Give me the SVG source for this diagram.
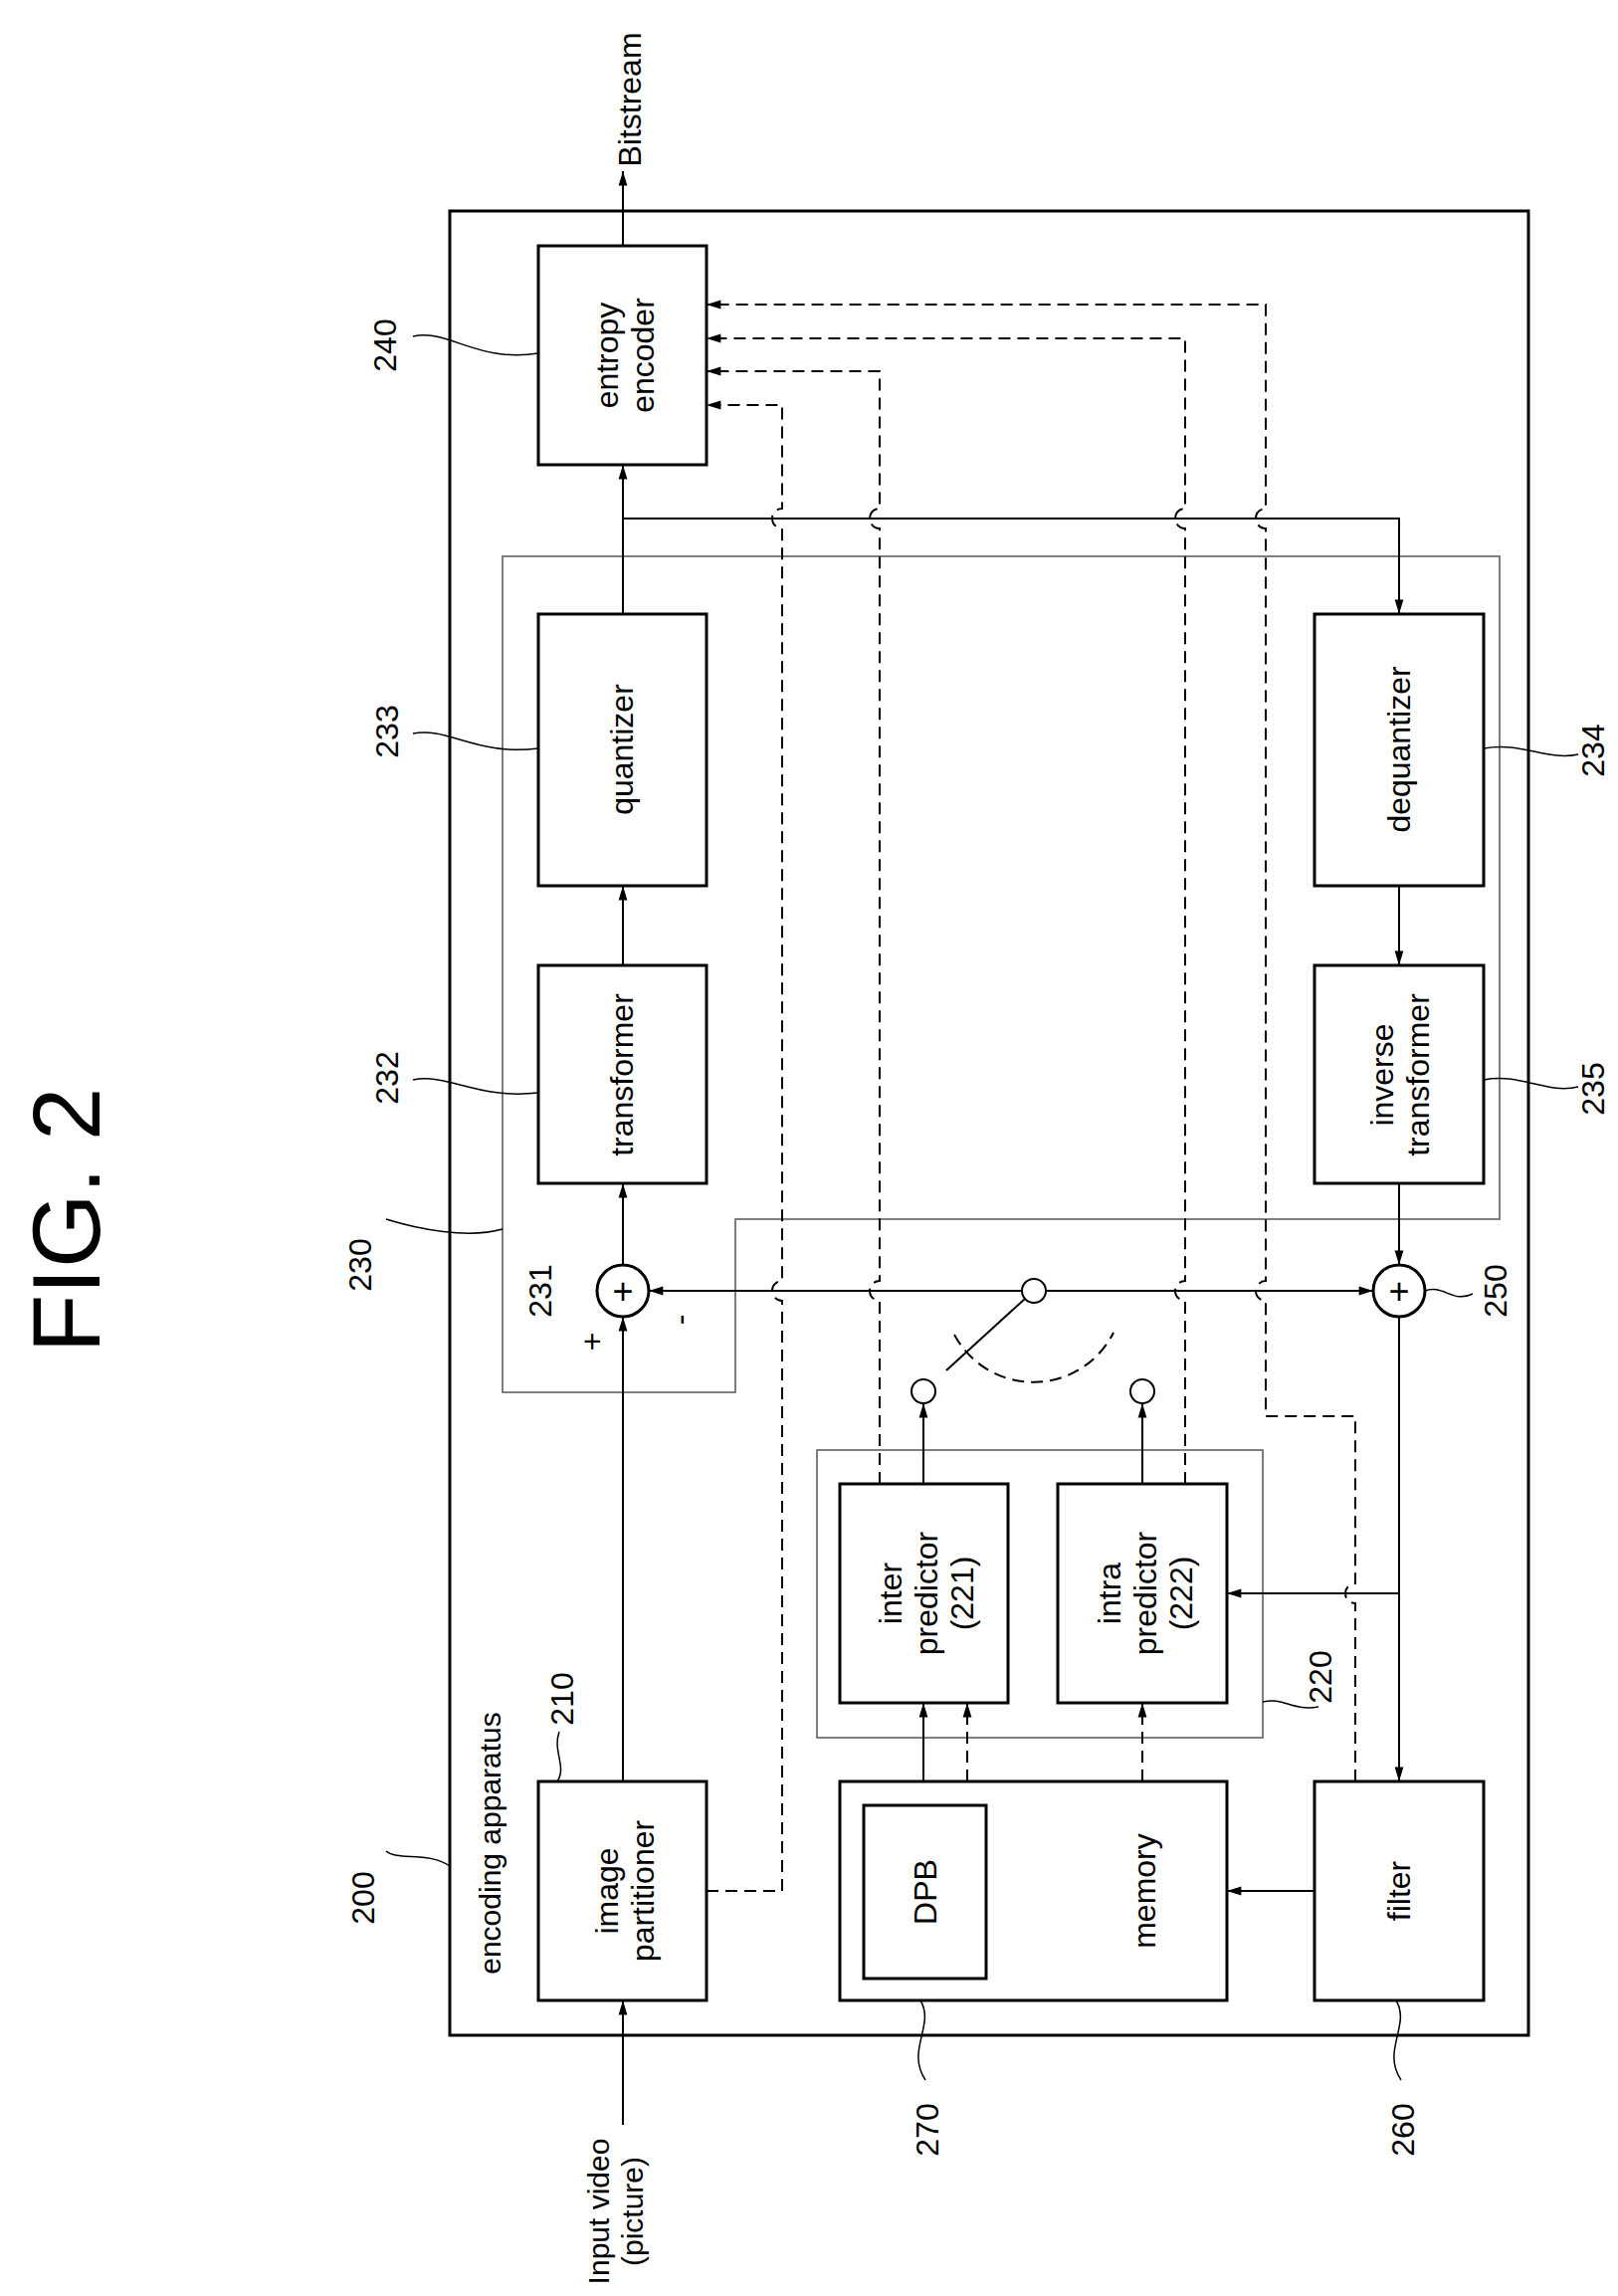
<svg xmlns="http://www.w3.org/2000/svg" width="1626" height="2307" viewBox="0 0 1626 2307">
<style>
text{font-family:"Liberation Sans",Arial,sans-serif;font-size:32px;fill:#000;text-anchor:middle}
.box{fill:none;stroke:#000;stroke-width:3}
.grp{fill:none;stroke:#555;stroke-width:1.5}
.ln{fill:none;stroke:#000;stroke-width:2}
.ds{fill:none;stroke:#000;stroke-width:2;stroke-dasharray:12 7}
.ld{fill:none;stroke:#000;stroke-width:1.5}
</style>
<defs>
<marker id="a" viewBox="0 0 10 10" refX="10" refY="5" markerWidth="8" markerHeight="8" markerUnits="userSpaceOnUse" orient="auto" style="overflow:visible"><path d="M-8,-0.5 L10,5 L-8,10.5 z" fill="#000"/></marker>
</defs>
<rect width="1626" height="2307" fill="#fff"/>
<text transform="translate(100,1226) rotate(-90)" style="font-size:96px">FIG. 2</text>
<g id="outer"><rect class="box" x="452" y="212" width="1084" height="1833"/>
<text transform="translate(503,1852) rotate(-90)" style="font-size:30px">encoding apparatus</text>
<text transform="translate(376,1907) rotate(-90)">200</text>
<path class="ld" d="M388,1860 C400,1870 430,1860 452,1875"/></g>
<g id="g230"><path class="grp" d="M505,559 H1507 V1225 H739 V1399 H505 Z"/>
<text transform="translate(373,1271) rotate(-90)">230</text>
<path class="ld" d="M388,1225 C420,1235 470,1245 505,1235"/></g>
<g id="g220"><rect class="grp" x="821" y="1457" width="448" height="289"/>
<text transform="translate(1338,1685) rotate(-90)">220</text>
<path class="ld" d="M1269,1710 C1290,1705 1300,1720 1325,1715"/></g>
<g id="n240"><rect class="box" x="541" y="247" width="169" height="220"/>
<text transform="translate(627,357) rotate(-90)"><tspan x="0" y="-6">entropy</tspan><tspan x="0" y="30">encoder</tspan></text>
<text transform="translate(398,347) rotate(-90)">240</text>
<path class="ld" d="M415,338 C450,330 480,365 541,355"/></g>
<g id="n233"><rect class="box" x="541" y="617" width="169" height="273"/>
<text transform="translate(636,753) rotate(-90)">quantizer</text>
<text transform="translate(400,735) rotate(-90)">233</text>
<path class="ld" d="M415,737 C450,730 480,760 541,752"/></g>
<g id="n232"><rect class="box" x="541" y="970" width="169" height="219"/>
<text transform="translate(636,1080) rotate(-90)">transformer</text>
<text transform="translate(400,1083) rotate(-90)">232</text>
<path class="ld" d="M415,1085 C450,1078 480,1105 541,1098"/></g>
<g id="n234"><rect class="box" x="1321" y="617" width="170" height="273"/>
<text transform="translate(1417,753) rotate(-90)">dequantizer</text>
<text transform="translate(1612,754) rotate(-90)">234</text>
<path class="ld" d="M1491,752 C1530,745 1555,765 1586,758"/></g>
<g id="n235"><rect class="box" x="1321" y="970" width="170" height="219"/>
<text transform="translate(1406,1080) rotate(-90)"><tspan x="0" y="-6">inverse</tspan><tspan x="0" y="30">transformer</tspan></text>
<text transform="translate(1612,1094) rotate(-90)">235</text>
<path class="ld" d="M1491,1085 C1530,1078 1555,1100 1586,1092"/></g>
<g id="n231"><circle class="box" cx="626" cy="1297" r="26"/>
<text x="626" y="1310" style="font-size:36px">+</text>
<text transform="translate(554,1297) rotate(-90)">231</text>
<text transform="translate(606,1348) rotate(-90)">+</text>
<text transform="translate(694,1326) rotate(-90)">-</text></g>
<g id="n250"><circle class="box" cx="1406" cy="1297" r="26"/>
<text x="1406" y="1310" style="font-size:36px">+</text>
<text transform="translate(1514,1297) rotate(-90)">250</text>
<path class="ld" d="M1432,1297 C1450,1290 1460,1310 1480,1300"/></g>
<g id="switch"><circle class="ln" cx="1039" cy="1297" r="12"/>
<circle class="ln" cx="928" cy="1398" r="12"/>
<circle class="ln" cx="1148" cy="1398" r="12"/>
<line class="ln" x1="1030" y1="1305" x2="951" y2="1377"/>
<path class="ds" d="M959,1341 A90,90 0 0 0 1119,1339"/></g>
<g id="n221"><rect class="box" x="844" y="1491" width="169" height="220"/>
<text transform="translate(928,1601) rotate(-90)"><tspan x="0" y="-22">inter</tspan><tspan x="0" y="14">predictor</tspan><tspan x="0" y="50">(221)</tspan></text></g>
<g id="n222"><rect class="box" x="1063" y="1491" width="170" height="220"/>
<text transform="translate(1148,1601) rotate(-90)"><tspan x="0" y="-22">intra</tspan><tspan x="0" y="14">predictor</tspan><tspan x="0" y="50">(222)</tspan></text></g>
<g id="n210"><rect class="box" x="541" y="1790" width="169" height="220"/>
<text transform="translate(627,1900) rotate(-90)"><tspan x="0" y="-6">image</tspan><tspan x="0" y="30">partitioner</tspan></text>
<text transform="translate(576,1707) rotate(-90)">210</text>
<path class="ld" d="M562,1740 C555,1760 570,1775 560,1790"/></g>
<g id="n270"><rect class="box" x="844" y="1790" width="389" height="220"/>
<rect class="box" x="868" y="1814" width="123" height="174"/>
<text transform="translate(941,1901) rotate(-90)">DPB</text>
<text transform="translate(1161,1900) rotate(-90)">memory</text>
<text transform="translate(943,2140) rotate(-90)">270</text>
<path class="ld" d="M925,2010 C940,2035 910,2060 930,2090"/></g>
<g id="n260"><rect class="box" x="1321" y="1790" width="170" height="220"/>
<text transform="translate(1417,1900) rotate(-90)">filter</text>
<text transform="translate(1421,2140) rotate(-90)">260</text>
<path class="ld" d="M1403,2010 C1418,2035 1388,2060 1408,2090"/></g>
<g id="io"><text transform="translate(612,2222) rotate(-90)" style="font-size:30px"><tspan x="0" y="0">Input video</tspan><tspan x="0" y="34">(picture)</tspan></text>
<text transform="translate(644,100) rotate(-90)">Bitstream</text></g>
<g id="connectors">
<line class="ln" x1="626" y1="247" x2="626" y2="172" marker-end="url(#a)"/>
<line class="ln" x1="626" y1="617" x2="626" y2="467" marker-end="url(#a)"/>
<line class="ln" x1="626" y1="970" x2="626" y2="890" marker-end="url(#a)"/>
<line class="ln" x1="626" y1="1271" x2="626" y2="1189" marker-end="url(#a)"/>
<line class="ln" x1="626" y1="1790" x2="626" y2="1323" marker-end="url(#a)"/>
<line class="ln" x1="626" y1="2135" x2="626" y2="2010" marker-end="url(#a)"/>
<polyline class="ln" points="626,521 1406,521 1406,617" marker-end="url(#a)"/>
<line class="ln" x1="1406" y1="890" x2="1406" y2="970" marker-end="url(#a)"/>
<line class="ln" x1="1406" y1="1189" x2="1406" y2="1271" marker-end="url(#a)"/>
<line class="ln" x1="1027" y1="1297" x2="652" y2="1297" marker-end="url(#a)"/>
<line class="ln" x1="1051" y1="1297" x2="1380" y2="1297" marker-end="url(#a)"/>
<line class="ln" x1="1406" y1="1323" x2="1406" y2="1790" marker-end="url(#a)"/>
<line class="ln" x1="1406" y1="1601" x2="1233" y2="1601" marker-end="url(#a)"/>
<line class="ln" x1="1321" y1="1900" x2="1233" y2="1900" marker-end="url(#a)"/>
<line class="ln" x1="928" y1="1491" x2="928" y2="1410" marker-end="url(#a)"/>
<line class="ln" x1="1148" y1="1491" x2="1148" y2="1410" marker-end="url(#a)"/>
<line class="ln" x1="928" y1="1790" x2="928" y2="1711" marker-end="url(#a)"/>
<line class="ds" x1="972" y1="1790" x2="972" y2="1711" marker-end="url(#a)"/>
<line class="ds" x1="1148" y1="1790" x2="1148" y2="1711" marker-end="url(#a)"/>
<path class="ds" d="M710,1900 H786 V1307 A10,10 0 0 1 786,1287 V531 A10,10 0 0 1 786,511 V407 H710" marker-end="url(#a)"/>
<path class="ds" d="M884,1491 V1307 A10,10 0 0 1 884,1287 V531 A10,10 0 0 1 884,511 V373 H710" marker-end="url(#a)"/>
<path class="ds" d="M1191,1491 V1307 A10,10 0 0 1 1191,1287 V531 A10,10 0 0 1 1191,511 V340 H710" marker-end="url(#a)"/>
<path class="ds" d="M1362,1790 V1611 A10,10 0 0 1 1362,1591 V1423 H1272 V1307 A10,10 0 0 1 1272,1287 V531 A10,10 0 0 1 1272,511 V306 H710" marker-end="url(#a)"/>
</g>
</svg>
